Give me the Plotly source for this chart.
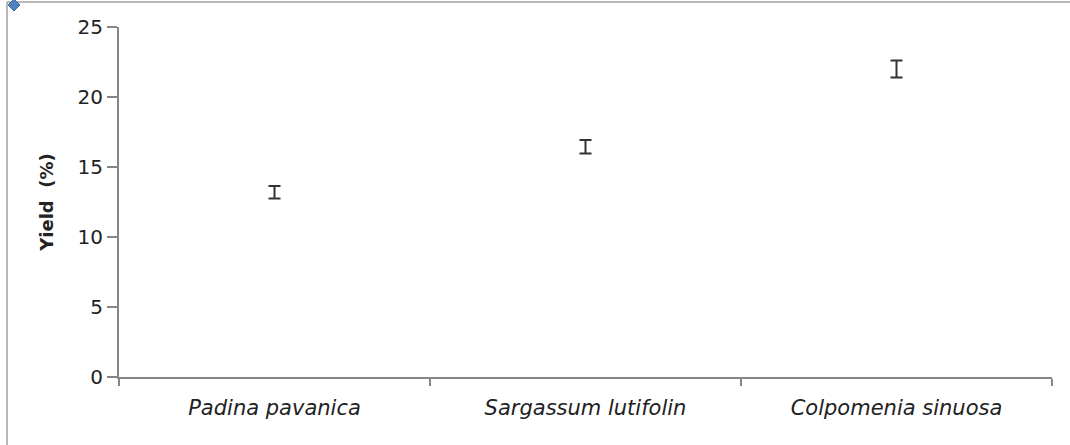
import plotly.graph_objects as go

categories = ["Padina pavanica", "Sargassum lutifolin", "Colpomenia sinuosa"]
yield_mean = [13.2, 16.45, 22.0]
yield_err = [0.45, 0.48, 0.6]
y_ticks = [0, 5, 10, 15, 20, 25]

W, H = 1070, 445
L, R, T, B = 119, 18, 27, 68

fig = go.Figure()
fig.add_trace(go.Scatter(
    x=[f"<i>{c}</i>" for c in categories],
    y=yield_mean,
    mode="markers",
    marker=dict(size=1, color="rgba(0,0,0,0)"),
    error_y=dict(type="data", array=yield_err, visible=True,
                 color="#333333", thickness=2, width=6),
    showlegend=False,
    hoverinfo="x+y",
))

axis_color = "#868686"
font_family = "DejaVu Sans, Verdana, sans-serif"
fig.update_layout(
    width=W, height=H,
    margin=dict(l=L, r=R, t=T, b=B),
    paper_bgcolor="white", plot_bgcolor="white",
    font=dict(family=font_family, color="#222"),
    xaxis=dict(
        type="category",
        showline=True, linecolor=axis_color, linewidth=2,
        ticks="outside", tickson="boundaries", ticklen=7, tickwidth=2,
        tickcolor=axis_color,
        showgrid=False, zeroline=False,
        tickfont=dict(size=21, color="#222", family=font_family),
        ticklabelstandoff=11,
        range=[-0.5, 2.5],
    ),
    yaxis=dict(
        range=[0, 25], tickvals=y_ticks,
        showline=True, linecolor=axis_color, linewidth=2,
        ticks="outside", ticklen=10, tickwidth=2, tickcolor=axis_color,
        showgrid=False, zeroline=False,
        tickfont=dict(size=20, color="#222", family=font_family),
        title=dict(text="<b>Yield  (%)</b>",
                   font=dict(size=18, color="#222", family=font_family),
                   standoff=19),
    ),
)

# outer border of the chart frame (top and left edges visible)
pw, ph = (W - L - R), (H - T - B)
fig.add_shape(type="line", xref="paper", yref="paper",
              x0=-(L - 7) / pw, x1=1 + R / pw,
              y0=1 + (T - 2) / ph, y1=1 + (T - 2) / ph,
              line=dict(color="#a0a0a0", width=1.5))
fig.add_shape(type="line", xref="paper", yref="paper",
              x0=-(L - 7) / pw, x1=-(L - 7) / pw,
              y0=1 + (T - 2) / ph, y1=-B / ph,
              line=dict(color="#a0a0a0", width=1.5))
# small selection handle diamond at the top-left corner
cx = -(L - 14) / pw
cy = 1 + (T - 5) / ph
dx = 6 / pw
dy = 6 / ph
fig.add_shape(type="path", xref="paper", yref="paper",
              path=f"M {cx - dx} {cy} L {cx} {cy + dy} L {cx + dx} {cy} L {cx} {cy - dy} Z",
              fillcolor="#4f81bd", line=dict(color="#3a6aa5", width=1))

fig.write_html("out.html")
